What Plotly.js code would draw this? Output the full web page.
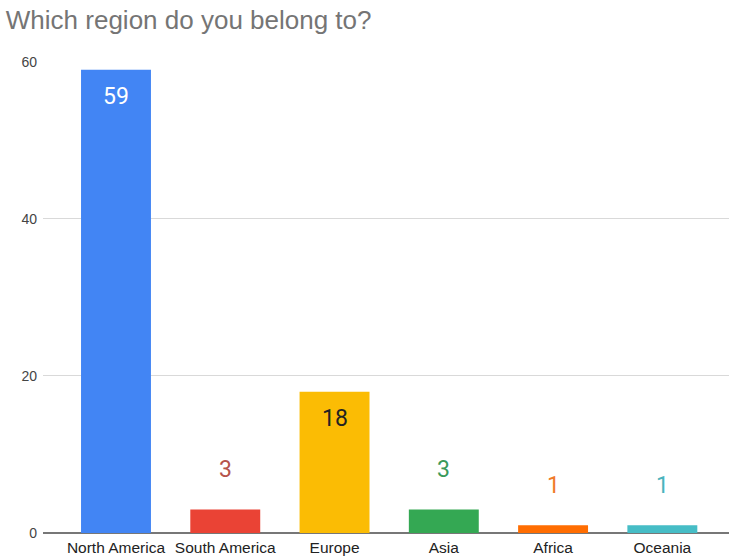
<!DOCTYPE html>
<html>
<head>
<meta charset="utf-8">
<script src="https://cdn.plot.ly/plotly-3.0.1.min.js"></script>
<style>html,body{margin:0;padding:0;background:#fff;}#chart{width:729px;height:559px;}</style>
</head>
<body>
<div id="chart"></div>
<script>
const categories = ["North America", "South America", "Europe", "Asia", "Africa", "Oceania"];
const values = [59, 3, 18, 3, 1, 1];
const barColors = ["#4285F4", "#EA4335", "#FBBC04", "#34A853", "#FF6D01", "#46BDC6"];
const labelColors = ["#ffffff", "#b5534b", "#222222", "#3a9a5a", "#f07a2a", "#4bb3bd"];
const insideLabel = [true, false, true, false, false, false];
const yTicks = [0, 20, 40, 60];

const annotations = categories.map((c, i) => ({
  x: c, y: values[i], xref: 'x', yref: 'y',
  text: String(values[i]), showarrow: false,
  yanchor: insideLabel[i] ? 'top' : 'bottom',
  yshift: insideLabel[i] ? -11 : 24,
  font: {family: 'Roboto, "Liberation Sans", Arial, sans-serif', size: 23, color: labelColors[i]}
}));

const trace = {
  type: 'bar', x: categories, y: values,
  marker: {color: barColors},
  hoverinfo: 'none'
};

const layout = {
  width: 729, height: 559,
  margin: {l: 43, r: 0, t: 61, b: 26},
  paper_bgcolor: '#fff', plot_bgcolor: '#fff',
  title: {text: 'Which region do you belong to?', x: 0.008, xanchor: 'left', xref: 'container', y: 0.964, yanchor: 'middle', yref: 'container',
    font: {family: '"Liberation Sans", Arial, sans-serif', size: 26, color: '#757575'}},
  xaxis: {type: 'category', range: [-0.668, 5.61], showgrid: false, zeroline: false, showline: false, ticks: '',
    tickfont: {family: '"Liberation Sans", Arial, sans-serif', size: 15.5, color: '#222'}, ticklabelstandoff: 3},
  yaxis: {range: [0, 60.1], tickvals: yTicks, ticktext: yTicks.map(String), showgrid: true, gridcolor: '#d9d9d9', gridwidth: 1,
    zeroline: true, zerolinecolor: '#777', zerolinewidth: 1.5, ticks: '', showline: false,
    tickfont: {family: '"Liberation Sans", Arial, sans-serif', size: 14, color: '#444'}, ticklabelstandoff: 5},
  bargap: 0.36,
  showlegend: false,
  annotations: annotations
};

Plotly.newPlot('chart', [trace], layout, {displayModeBar: false, staticPlot: true});
</script>
</body>
</html>
